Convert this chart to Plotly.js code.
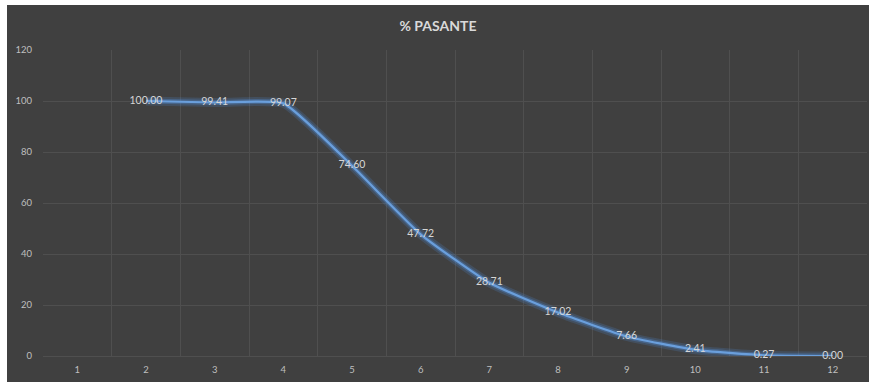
<!DOCTYPE html>
<html>
<head>
<meta charset="utf-8">
<script src="https://cdn.plot.ly/plotly-3.0.1.min.js"></script>
<style>
  html, body { margin: 0; padding: 0; background: #ffffff; }
  #chart { position: absolute; left: 7px; top: 5px; width: 862px; height: 377px; }
</style>
</head>
<body>
<div id="chart"></div>
<script>
// Tamiz (1..12) y porcentaje que pasa
const categories = [2, 3, 4, 5, 6, 7, 8, 9, 10, 11, 12];
const pasante = [100.00, 99.41, 99.07, 74.60, 47.72, 28.71, 17.02, 7.66, 2.41, 0.27, 0.00];
const xTicks = [1, 2, 3, 4, 5, 6, 7, 8, 9, 10, 11, 12];
const yTicks = [0, 20, 40, 60, 80, 100, 120];

const font = 'Lato, "Open Sans", "Liberation Sans", sans-serif';
const labels = pasante.map(v => v.toFixed(2));
const curve = { shape: 'spline', smoothing: 0.45 };

const traces = [
  { // soft halo under the curve
    x: categories, y: pasante, mode: 'lines', hoverinfo: 'skip', cliponaxis: false,
    line: Object.assign({ color: 'rgba(80,140,215,0.20)', width: 9 }, curve)
  },
  {
    x: categories, y: pasante, mode: 'lines', hoverinfo: 'skip', cliponaxis: false,
    line: Object.assign({ color: 'rgba(80,140,215,0.35)', width: 5 }, curve)
  },
  {
    x: categories, y: pasante, mode: 'lines', cliponaxis: false,
    line: Object.assign({ color: '#6a9fdc', width: 2.2 }, curve)
  },
  {
    x: categories, y: pasante, mode: 'text', text: labels, cliponaxis: false,
    textposition: 'middle center',
    textfont: { family: font, size: 10.5, color: '#d6d6d6' }
  }
];

const layout = {
  width: 862, height: 377,
  paper_bgcolor: '#404040', plot_bgcolor: '#404040',
  showlegend: false,
  margin: { l: 36, r: 2, t: 45, b: 26 },
  title: {
    text: '<b>% PASANTE</b>', x: 0.5, xanchor: 'center', y: 0.945, yanchor: 'middle',
    font: { family: font, size: 14, color: '#d9d9d9' }
  },
  xaxis: {
    range: [0.5, 12.5], tickvals: xTicks, ticktext: xTicks.map(String),
    showgrid: false, zeroline: false, showline: false, ticks: '',
    ticklabelstandoff: 6,
    tickfont: { family: font, size: 9.5, color: '#bfbfbf' },
    minor: { tick0: 0.5, dtick: 1, showgrid: true, gridcolor: '#4f4f4f', gridwidth: 1 }
  },
  yaxis: {
    range: [0, 120], tickvals: yTicks, showgrid: true, gridcolor: '#4f4f4f',
    zeroline: true, zerolinecolor: '#4f4f4f', showline: false, ticks: '',
    ticklabelstandoff: 10,
    tickfont: { family: font, size: 9.5, color: '#bfbfbf' }
  }
};

Plotly.newPlot('chart', traces, layout, { displayModeBar: false, staticPlot: true });
</script>
</body>
</html>
